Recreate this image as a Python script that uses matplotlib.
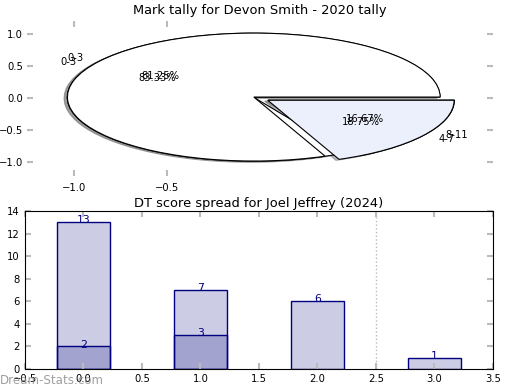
import matplotlib
matplotlib.use("Agg")
import matplotlib.pyplot as plt

# pie data (two tallies drawn on the same axes)
pie_a_labels = ["0-3", "4-7"]
pie_a_values = [13, 3]
pie_b_labels = ["0-3", "8-11"]
pie_b_values = [10, 2]
pie_colors = ["white", "#ebf0fc"]

# bar data
bar_x = [0, 1, 2, 3]
bar_values = [13, 7, 6, 1]
bar2_x = [0, 1]
bar2_values = [2, 3]

navy = "#000080"
tick_gray = "#bbbbbb"

fig = plt.figure(figsize=(5.2, 3.9), dpi=100)

#Pie chart
ax1 = fig.add_axes([0.052, 0.549, 0.896, 0.397])
shadow = {"ox": -0.012, "oy": -0.012, "shade": 0.5}
ax1.pie(pie_b_values, labels=pie_b_labels, colors=pie_colors, explode=(0.04, 0.05),
        autopct="%1.2f%%", shadow=shadow, frame=True,
        wedgeprops={"edgecolor": "black", "linewidth": 0.8},
        textprops={"fontsize": 7.2})
ax1.pie(pie_a_values, labels=pie_a_labels, colors=pie_colors, explode=(0.04, 0.05),
        autopct="%1.2f%%", shadow=shadow, frame=True,
        wedgeprops={"edgecolor": "black", "linewidth": 0.8},
        textprops={"fontsize": 7.2})
ax1.set_aspect("auto")
ax1.set_xlim(-1.25, 1.25)
ax1.set_ylim(-1.21, 1.21)
ax1.set_xticks([-1.0, -0.5])
ax1.set_yticks([1.0, 0.5, 0.0, -0.5, -1.0])
ax1.set_xticklabels(["\u22121.0", "\u22120.5"])
ax1.set_yticklabels(["1.0", "0.5", "0.0", "\u22120.5", "\u22121.0"])
for s in ax1.spines.values():
    s.set_visible(False)
ax1.tick_params(direction="in", top=True, right=True, length=4, width=1.5,
                color=tick_gray, labelsize=7.2)
ax1.tick_params(axis="x", pad=5)
ax1.tick_params(axis="y", pad=3)
ax1.set_title("Mark tally for Devon Smith - 2020 tally", fontsize=9.4, pad=5)

#Bar chart
ax2 = fig.add_axes([0.048, 0.054, 0.900, 0.405])
ax2.bar(bar_x, bar_values, width=0.45, color=(0, 0, 0.5, 0.2), edgecolor=navy, linewidth=1)
ax2.bar(bar2_x, bar2_values, width=0.45, color=(0, 0, 0.5, 0.2), edgecolor=navy, linewidth=1)
for x, v in zip(bar_x, bar_values):
    ax2.text(x, v - 0.1, str(v), ha="center", va="baseline", color=navy, fontsize=7.8)
for x, v in zip(bar2_x, bar2_values):
    ax2.text(x, v - 0.1, str(v), ha="center", va="baseline", color=navy, fontsize=7.8)
ax2.axvline(2.5, color="#bbbbbb", linestyle=":", linewidth=1)
ax2.set_xlim(-0.5, 3.5)
ax2.set_ylim(0, 14)
ax2.set_xticks([-0.5, 0.0, 0.5, 1.0, 1.5, 2.0, 2.5, 3.0, 3.5])
ax2.set_yticks(range(0, 15, 2))
ax2.set_xticklabels(["\u22120.5", "0.0", "0.5", "1.0", "1.5", "2.0", "2.5", "3.0", "3.5"])
ax2.tick_params(direction="in", top=True, right=True, length=4, width=1.5,
                color=tick_gray, labelsize=7.2, pad=4)
ax2.set_title("DT score spread for Joel Jeffrey (2024)", fontsize=9.4, pad=3)

fig.text(0.0, 0.015, "Dream-Stats.com", fontsize=8.6, color="#888888", alpha=0.8)

plt.savefig("out.png", dpi=100)
